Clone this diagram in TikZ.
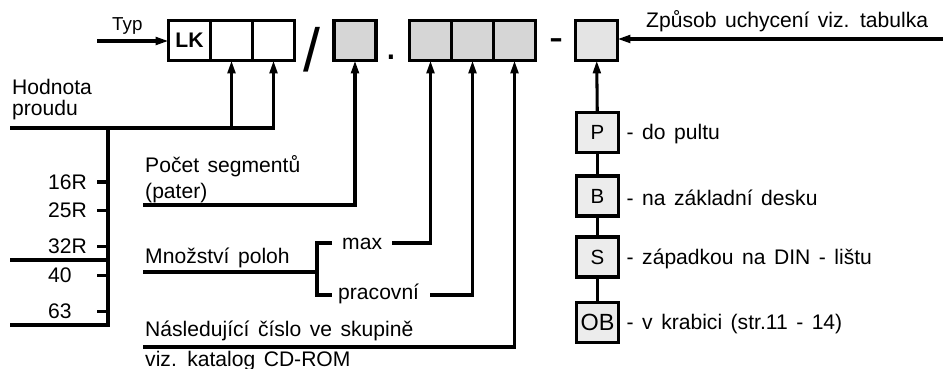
\documentclass[tikz,border=0pt]{standalone}
\usepackage{fontspec}
\setmainfont{Liberation Sans}[WordSpace=1.45]
\usetikzlibrary{positioning, arrows.meta, calc}
\definecolor{ink}{RGB}{0,0,0}
\definecolor{cellgray}{RGB}{214,214,214}
\definecolor{cellsoft}{RGB}{228,228,228}
\definecolor{optsoft}{RGB}{236,236,236}
\tikzset{
  cell/.style    ={rectangle, draw=ink, line width=2.6pt, fill=white, outer sep=0pt, inner sep=0pt,
                   minimum width=1.26cm, minimum height=1.2cm, font=\fontsize{18}{18}\selectfont\bfseries},
  graycell/.style={cell, fill=cellgray},
  softcell/.style={cell, fill=cellsoft},
  optcell/.style ={cell, fill=optsoft, font=\fontsize{17.5}{18}\selectfont},
  ln/.style      ={line width=2.6pt, color=ink},
  arr/.style     ={ln, -{Triangle[length=11pt, width=6.5pt]}},
  lbl/.style     ={inner sep=0pt, align=left, font=\fontsize{18}{18}\selectfont},
  sepmark/.style ={inner sep=0pt, font=\fontsize{36}{36}\selectfont},
}

\begin{document}
\begin{tikzpicture}[x=0.03cm, y=-0.03cm]
\useasboundingbox (0,0) rectangle (943,369);
% code boxes
\node[cell] (lk) at (189.5,40.5) {LK};
\node[cell, right=0pt of lk] (a1) {};
\node[cell, right=0pt of a1] (a2) {};
\node[graycell] (b1) at (355,40.5) {};
\node[graycell] (b2a) at (430.5,40.5) {};
\node[graycell, right=0pt of b2a] (b2b) {};
\node[graycell, right=0pt of b2b] (b2c) {};
\node[softcell] (r) at (596.5,40.5) {};
% separators
\node[sepmark, font=\fontsize{52}{52}\selectfont, anchor=base] (slash) at (312,72) {/};
\node[sepmark, anchor=base] (dot) at (391,60) {.};
\node[sepmark, anchor=base] (dash) at (556.5,52) {-};

% mounting
\coordinate (zpR) at (943,39);
\node[lbl, anchor=base west] (zp) at (646,28) {Způsob uchycení viz. tabulka};
\draw[arr] (zpR) -- (zpR -| r.east);
\foreach \n/\y/\s/\t in {P/132.5/17.5/do pultu, B/196/17.5/na základní desku,
                         S/257/17.5/západkou na DIN - lištu, OB/322.5/20/v krabici (str.11 - 14)} {
  \node[optcell, font=\fontsize{\s}{\s}\selectfont] (\n) at (597.5,\y) {\n};
  \node[lbl, anchor=west] (t\n) at ($(\n.east)+(8,1.5)$) {- \t};
}
\draw[arr] (P) -- (r);
\draw[ln] (P) -- (B) -- (S) -- (OB);

% type
\coordinate (typL) at (97,41);
\node[lbl, font=\fontsize{16}{16}\selectfont, anchor=base west] (typ) at (112,31) {Typ};
\draw[arr] (typL) -- (typL -| lk.west);

% current
\node[lbl, anchor=base west] (hod) at (12,116) {Hodnota\\proudu};
\coordinate (hodL) at (10,128);
\coordinate (stemT) at (108,128);
\coordinate (botL) at (10,325);
\coordinate (midL) at (10,260);
\coordinate (tickL) at (97,0);
\draw[arr] (hodL) -| (a2);
\draw[arr] (a1 |- hodL) -- (a1);
\draw[ln] (stemT) |- (botL);
\draw[ln] (midL) -- (midL -| stemT);
\foreach \y/\t in {182/16R, 210.5/25R, 246.5/32R, 275.5/40, 311.5/63} {
  \node[lbl, anchor=west] (i\t) at (48,\y) {\t};
  \draw[ln] (tickL |- i\t.west) -- (stemT |- i\t.west);
}

% segments
\node[lbl, anchor=base west] (poc) at (145,199) {Počet segmentů\\[5pt](pater)};
\coordinate (pocL) at (143,205);
\draw[arr] (pocL) -| (b1);

% positions
\node[lbl, anchor=base west] (mno) at (145,263) {Množství poloh};
\coordinate (mnoL) at (143,272);
\coordinate (brk) at (317,272);
\coordinate (brkT) at (332,243);
\coordinate (brkB) at (332,295);
\draw[ln] (mnoL) -- (brk);
\draw[ln] (brkT) -| (brk) |- (brkB);
\node[lbl, anchor=base west] (max) at (342,250) {max};
\node[lbl, anchor=base west] (prac) at (338,300) {pracovní};
\coordinate (maxR) at (392,243);
\coordinate (pracR) at (430,295);
\draw[arr] (maxR) -| (b2a);
\draw[arr] (pracR) -| (b2b);

% next number
\node[lbl, anchor=base west] (nas) at (145,366) {Následující číslo ve skupině\\[7.5pt]viz. katalog CD-ROM};
\coordinate (nasL) at (143,347);
\draw[arr] (nasL) -| (b2c);
\end{tikzpicture}
\end{document}
